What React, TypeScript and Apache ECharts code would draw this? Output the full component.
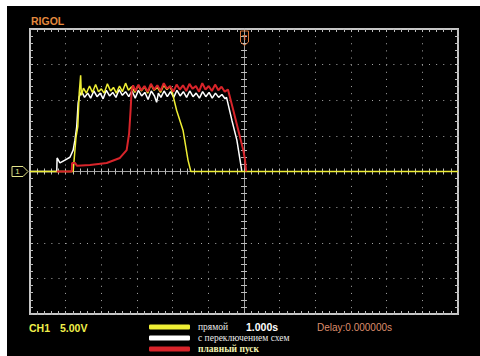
import React, { useEffect, useRef } from "react";
import * as echarts from "echarts";

// Time (s, 1 s/div) and voltage (V, 5 V/div)
const timeRange = [-6, 6];
const voltRange = [-20, 20];

const seriesNames = ["прямой", "с переключением схем", "плавный пуск"];

const directTrace: [number, number][] = [
  [-6, 0], [-4.79, 0], [-4.71, 4.8], [-4.66, 6.3], [-4.62, 11.0], [-4.58, 13.5], [-4.56, 10.7],
  [-4.5, 11.7], [-4.42, 11.0], [-4.33, 12.0], [-4.25, 11.1], [-4.16, 12.2], [-4.08, 11.2],
  [-4.0, 11.6], [-3.92, 11.0], [-3.83, 12.3], [-3.74, 11.3], [-3.66, 11.8], [-3.58, 11.0],
  [-3.49, 12.0], [-3.41, 11.2], [-3.32, 12.4], [-3.24, 11.4], [-3.15, 11.9], [-3.06, 11.1],
  [-2.97, 12.1], [-2.88, 11.3], [-2.79, 11.9], [-2.7, 11.0], [-2.61, 12.2], [-2.52, 11.4],
  [-2.43, 11.8], [-2.34, 11.1], [-2.25, 12.1], [-2.16, 11.5], [-2.08, 11.9], [-2.02, 11.3],
  [-1.89, 8.6], [-1.71, 5.8], [-1.57, 1.6], [-1.49, 0], [6, 0],
];

const switchedTrace: [number, number][] = [
  [-6, 0], [-5.25, 0], [-5.24, 1.9], [-5.16, 1.2], [-5.02, 1.6], [-4.88, 2.0], [-4.79, 3.0],
  [-4.74, 4.4], [-4.69, 6.3], [-4.65, 9.6], [-4.62, 10.5], [-4.55, 11.2], [-4.47, 10.4],
  [-4.38, 11.0], [-4.3, 10.3], [-4.21, 11.3], [-4.12, 10.5], [-4.03, 11.0], [-3.95, 10.2],
  [-3.86, 11.4], [-3.77, 10.6], [-3.68, 11.1], [-3.59, 10.4], [-3.5, 11.5], [-3.41, 10.7],
  [-3.32, 11.2], [-3.23, 10.5], [-3.14, 11.3], [-3.05, 10.3], [-2.96, 11.4], [-2.87, 10.6],
  [-2.78, 11.1], [-2.69, 10.1], [-2.6, 11.3], [-2.51, 10.6], [-2.45, 9.7], [-2.4, 11.0],
  [-2.33, 10.4], [-2.24, 11.3], [-2.15, 10.5], [-2.06, 11.2], [-1.97, 10.4], [-1.88, 11.4],
  [-1.79, 10.6], [-1.7, 11.2], [-1.61, 10.4], [-1.52, 11.3], [-1.43, 10.5], [-1.34, 11.0],
  [-1.25, 10.3], [-1.16, 11.2], [-1.07, 10.5], [-0.98, 11.1], [-0.89, 10.3], [-0.8, 11.0],
  [-0.71, 10.4], [-0.62, 10.8], [-0.53, 10.2], [-0.49, 10.4], [-0.34, 7.2], [-0.2, 4.4],
  [-0.11, 1.6], [-0.06, 0],
];

const softStartTrace: [number, number][] = [
  [-5.25, 0], [-4.83, 0], [-4.82, 1.2], [-4.74, 1.2], [-4.68, 0.8], [-4.32, 0.9], [-3.85, 1.2],
  [-3.48, 1.9], [-3.29, 3.0], [-3.22, 5.4], [-3.18, 8.6], [-3.15, 11.4], [-3.11, 12.1],
  [-3.04, 11.3], [-2.96, 12.2], [-2.88, 11.4], [-2.79, 12.0], [-2.7, 11.2], [-2.61, 12.3],
  [-2.52, 11.5], [-2.43, 12.1], [-2.34, 11.3], [-2.25, 12.4], [-2.16, 11.6], [-2.07, 12.0],
  [-1.98, 11.2], [-1.89, 12.2], [-1.8, 11.5], [-1.71, 12.1], [-1.62, 11.3], [-1.53, 12.3],
  [-1.44, 11.6], [-1.35, 12.0], [-1.26, 11.2], [-1.17, 12.4], [-1.08, 11.5], [-0.99, 12.0],
  [-0.9, 11.3], [-0.81, 12.2], [-0.72, 11.4], [-0.63, 11.9], [-0.54, 11.2], [-0.45, 11.5],
  [-0.3, 8.6], [-0.16, 5.8], [-0.02, 3.0], [0.03, 1.6], [0.06, 0],
];

const GRID = { left: 30, top: 29, width: 428, height: 285 };
const tickColor = "#bdbdbd";
const dotColor = "#a8a8a8";

function makeAxis(dim: "x" | "y", position: string, offset: number, inside: boolean, line: boolean, split: boolean) {
  const range = dim === "x" ? timeRange : voltRange;
  const interval = dim === "x" ? 1 : 5;
  const divPx = dim === "x" ? GRID.width / 12 : GRID.height / 8;
  return {
    type: "value",
    min: range[0],
    max: range[1],
    interval,
    position,
    offset,
    axisLine: { show: line, onZero: false, lineStyle: { color: "#a0a0a0", width: 1 } },
    axisTick: { show: true, inside, length: 3, lineStyle: { color: tickColor, width: 1 } },
    minorTick: { show: true, splitNumber: 5, length: 3, lineStyle: { color: tickColor, width: 1 } },
    axisLabel: { show: false },
    splitLine: split
      ? { show: true, lineStyle: { color: dotColor, width: 1, type: [1, divPx / 5 - 1] } }
      : { show: false },
    minorSplitLine: { show: false },
  };
}

export default function App() {
  const ref = useRef<HTMLDivElement>(null);
  useEffect(() => {
    if (!ref.current) return;
    const chart = echarts.init(ref.current, null, { renderer: "svg" });
    const mkSeries = (name: string, data: [number, number][], color: string, width: number) => ({
      name,
      type: "line",
      data,
      xAxisIndex: 0,
      yAxisIndex: 0,
      showSymbol: false,
      symbol: "none",
      silent: true,
      color,
      itemStyle: { color },
      lineStyle: { color, width },
    });
    chart.setOption({
      animation: false,
      backgroundColor: "transparent",
      grid: {
        ...GRID,
        show: true,
        borderColor: "#c6c6c6",
        borderWidth: 2,
        backgroundColor: "transparent",
      },
      xAxis: [
        makeAxis("x", "bottom", 0, true, false, true),
        makeAxis("x", "top", 0, true, false, false),
        makeAxis("x", "bottom", -GRID.height / 2, true, true, false),
        makeAxis("x", "bottom", -GRID.height / 2, false, false, false),
      ],
      yAxis: [
        makeAxis("y", "left", 0, true, false, true),
        makeAxis("y", "right", 0, true, false, false),
        makeAxis("y", "left", -GRID.width / 2, true, true, false),
        makeAxis("y", "left", -GRID.width / 2, false, false, false),
      ],
      legend: {
        orient: "vertical",
        left: 149,
        top: 322,
        padding: 0,
        itemWidth: 41,
        itemHeight: 5,
        itemGap: 1,
        icon: "roundRect",
        selectedMode: false,
        textStyle: {
          fontFamily: "Liberation Serif",
          fontSize: 9.5,
          lineHeight: 10,
          color: "#e8e8e8",
          padding: [0, 0, 0, 3],
        },
        data: [
          { name: seriesNames[0] },
          { name: seriesNames[1] },
          { name: seriesNames[2], textStyle: { color: "#f2f2b0", fontWeight: "bold" } },
        ],
      },
      graphic: [
        {
          type: "text", x: 31, y: 21,
          style: { text: "RIGOL", fill: "#e4893e", font: 'bold 10.5px "Liberation Sans"', textVerticalAlign: "middle", verticalAlign: "middle" },
        },
        {
          type: "text", x: 29, y: 327.5,
          style: { text: "CH1", fill: "#f0f04a", font: 'bold 10.5px "Liberation Sans"', textVerticalAlign: "middle", verticalAlign: "middle" },
        },
        {
          type: "text", x: 60, y: 327.5,
          style: { text: "5.00V", fill: "#f0f04a", font: 'bold 10.5px "Liberation Sans"', textVerticalAlign: "middle", verticalAlign: "middle" },
        },
        {
          type: "text", x: 246, y: 327,
          style: { text: "1.000s", fill: "#ffffff", font: 'bold 10.5px "Liberation Sans"', textVerticalAlign: "middle", verticalAlign: "middle" },
        },
        {
          type: "text", x: 317, y: 327,
          style: { text: "Delay:0.000000s", fill: "#dd8e6c", font: '10px "Liberation Sans"', textVerticalAlign: "middle", verticalAlign: "middle" },
        },
        {
          type: "polygon",
          shape: { points: [[240.5, 31], [248.5, 31], [248.5, 42], [244.5, 45.5], [240.5, 42]] },
          style: { fill: "none", stroke: "#d8763a", lineWidth: 1 },
          z: 10,
        },
        {
          type: "text", x: 244.5, y: 37,
          style: { text: "T", fill: "#d8763a", font: 'bold 8px "Liberation Sans"', textAlign: "center", align: "center", textVerticalAlign: "middle", verticalAlign: "middle" },
          z: 10,
        },
        {
          type: "polygon",
          shape: { points: [[12, 166.5], [23, 166.5], [28, 171.5], [23, 176.5], [12, 176.5]] },
          style: { fill: "none", stroke: "#e6e68c", lineWidth: 1 },
        },
        {
          type: "text", x: 17.5, y: 171.5,
          style: { text: "1", fill: "#e6e68c", font: '8px "Liberation Sans"', textAlign: "center", align: "center", textVerticalAlign: "middle", verticalAlign: "middle" },
        },
      ],
      series: [
        mkSeries(seriesNames[1], switchedTrace, "#ffffff", 1.5),
        mkSeries(seriesNames[0], directTrace, "#eeee34", 1.5),
        mkSeries(seriesNames[2], softStartTrace, "#d8242a", 2),
      ],
    });
    return () => chart.dispose();
  }, []);
  return (
    <div style={{ position: "fixed", left: 0, top: 0, width: 480, height: 356, background: "#ffffff" }}>
      <div style={{ position: "absolute", left: 7, top: 6, width: 473, height: 350, background: "#000000" }} />
      <div ref={ref} style={{ position: "absolute", left: 0, top: 0, width: 480, height: 356 }} />
    </div>
  );
}
